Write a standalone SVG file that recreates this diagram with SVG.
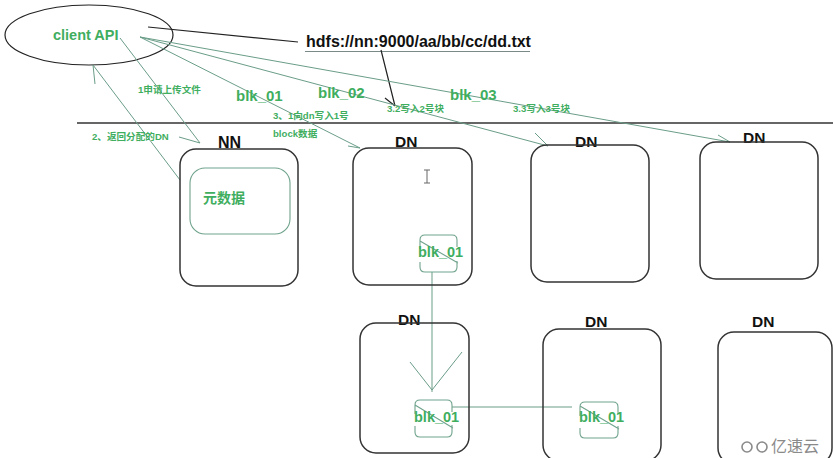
<svg xmlns="http://www.w3.org/2000/svg" width="833" height="458" viewBox="0 0 833 458">
<defs>
<style>
.box{fill:none;stroke:#333;stroke-width:1.5}
.inner{fill:none;stroke:#6fa38c;stroke-width:1.1}
.lbl{font-family:"Liberation Sans",Arial,sans-serif;font-weight:bold;fill:#111}
.gt{font-family:"Liberation Sans",Arial,sans-serif;font-weight:bold;fill:#3fae5f}
.cn{font-family:"Liberation Sans","Noto Sans CJK SC",sans-serif;font-weight:bold;fill:#3fae5f;font-size:9.6px}
.gl{fill:none;stroke:#6a9d88;stroke-width:1}
.bl{fill:none;stroke:#222;stroke-width:1.2}
</style>
</defs>
<rect width="833" height="458" fill="#fff"/>

<!-- divider line -->
<line x1="77" y1="123" x2="833" y2="123" stroke="#666" stroke-width="2"/>

<g id="client">
<ellipse cx="89" cy="35" rx="84" ry="30" fill="none" stroke="#222" stroke-width="1.2"/>
<text class="gt" x="53" y="40" font-size="14.5">client API</text>
</g>

<g id="hdfs">
<text class="lbl" x="306" y="47" font-size="16">hdfs://nn:9000/aa/bb/cc/dd.txt</text>
<line x1="305" y1="51.5" x2="530" y2="51.5" stroke="#7a8a88" stroke-width="1"/>
</g>

<g id="connectors">
<!-- client to hdfs -->
<line class="bl" x1="148" y1="27" x2="298" y2="42"/>
<!-- hdfs to 3.2 -->
<path class="bl" d="M381,50 L395,106 M385,98 L395,106" stroke-width="1"/>
<!-- 1 apply upload -->
<path class="gl" d="M120,38 L200,143 M179,137 L200,143"/>
<!-- 2 return DN -->
<path class="gl" d="M180,180 L93,65 M93,65 L95,84"/>
<!-- blk_01 -->
<path class="gl" d="M140,37 L360,148 M348,146 L360,148"/>
<!-- blk_02 -->
<path class="gl" d="M140,37 L548,146 M535,133 L548,146"/>
<!-- blk_03 -->
<path class="gl" d="M140,37 L730,142 M718,135 L730,142"/>
<!-- DN1 to DN4 -->
<path class="gl" d="M432,272 V392 M410,362 L432,390 L462,352"/>
<!-- DN4 to DN5 -->
<line class="gl" x1="452" y1="407" x2="572" y2="407"/>
</g>

<g id="labels">
<text class="cn" x="138" y="93">1申请上传文件</text>
<text class="cn" x="92" y="140">2、返回分配的DN</text>
<text class="gt" x="236" y="101" font-size="15">blk_01</text>
<text class="gt" x="318" y="98" font-size="15">blk_02</text>
<text class="gt" x="450" y="100" font-size="15">blk_03</text>
<text class="cn" x="273" y="119">3、1向dn写入1号</text>
<text class="cn" x="273" y="137">block数据</text>
<text class="cn" x="387" y="112">3.2写入2号块</text>
<text class="cn" x="513" y="112">3.3写入3号块</text>
</g>

<g id="NN">
<text class="lbl" x="218" y="148" font-size="16">NN</text>
<rect class="box" x="180" y="149" width="118" height="137" rx="16"/>
<rect class="inner" x="190" y="168" width="100" height="66" rx="15"/>
<text x="203" y="203" font-family="'Noto Sans CJK SC',sans-serif" font-weight="bold" font-size="14" fill="#3fae5f">元数据</text>
</g>

<g id="DN1">
<text class="lbl" x="395" y="147" font-size="15.5">DN</text>
<rect class="box" x="353" y="148" width="119" height="137" rx="16"/>
<path d="M424,170 H430 M427,170 V183 M424,183 H430" stroke="#666" stroke-width="1" fill="none"/>
<path class="inner" d="M420,249 V240 Q420,235 425,235 H452 Q457,235 457,240 V247 M420,262 V267 Q420,272 425,272 H452 Q457,272 457,267 V261 M420,241 L458,263"/>
<text class="gt" x="418" y="257" font-size="14.5">blk_01</text>
</g>

<g id="DN2">
<text class="lbl" x="575" y="147" font-size="15.5">DN</text>
<rect class="box" x="531" y="145" width="118" height="137" rx="16"/>
</g>

<g id="DN3">
<text class="lbl" x="743" y="143" font-size="15.5">DN</text>
<rect class="box" x="700" y="142" width="118" height="137" rx="16"/>
</g>

<g id="DN4">
<text class="lbl" x="398" y="325" font-size="15.5">DN</text>
<rect class="box" x="360" y="323" width="109" height="130" rx="16"/>
<path class="inner" d="M415,414 V405 Q415,400 420,400 H447 Q452,400 452,405 V412 M415,426 V432 Q415,437 420,437 H447 Q452,437 452,432 V425 M415,405 L453,428"/>
<text class="gt" x="414" y="422" font-size="14.5">blk_01</text>
</g>

<g id="DN5">
<text class="lbl" x="585" y="327" font-size="15.5">DN</text>
<rect class="box" x="543" y="329" width="118" height="132" rx="16"/>
<path class="inner" d="M580,416 V407 Q580,402 585,402 H613 Q618,402 618,407 V414 M580,428 V433 Q580,438 585,438 H613 Q618,438 618,433 V426 M580,406 L619,429"/>
<text class="gt" x="579" y="422" font-size="14.5">blk_01</text>
</g>

<g id="DN6">
<text class="lbl" x="752" y="327" font-size="15.5">DN</text>
<rect class="box" x="718" y="332" width="114" height="132" rx="16"/>
</g>

<g id="watermark">
<rect x="738" y="434" width="88" height="24" fill="#fff" opacity="0.85"/>
<path d="M752,447 a5,5 0 1 1 -5,-5 M747,452 a5,5 0 1 0 0,-10 M767,447 a5,5 0 1 0 -5,5 M762,442 a5,5 0 1 1 0,10" fill="none" stroke="#8a8a8a" stroke-width="1.6"/>
<text x="771" y="452" font-family="'Noto Sans CJK SC',sans-serif" font-size="16" fill="#8a8a8a">亿速云</text>
</g>
</svg>
